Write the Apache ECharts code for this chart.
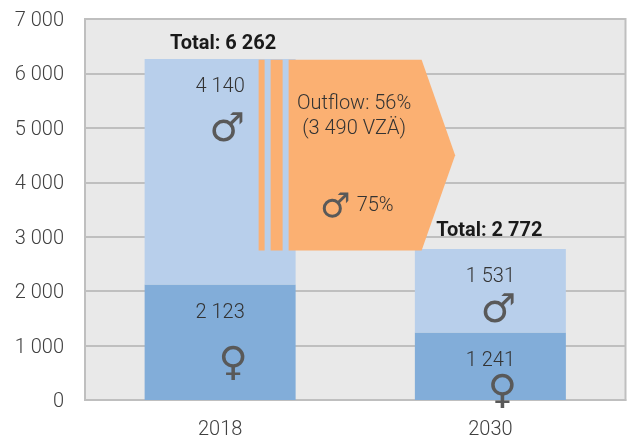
<!DOCTYPE html>
<html><head><meta charset="utf-8">
<style>html,body{margin:0;padding:0;background:#fff}#c{width:627px;height:439px}</style>
<script src="https://cdn.jsdelivr.net/npm/echarts@6/dist/echarts.min.js"></script>
</head><body><div id="c"></div>
<script>
const categories = ['2018', '2030'];
const women = [2123, 1241];
const men = [4140, 1531];
const totals = [6262, 2772];
const totalLabels = ['Total: 6 262', 'Total: 2 772'];
const yTicks = {0:'0',1000:'1 000',2000:'2 000',3000:'3 000',4000:'4 000',5000:'5 000',6000:'6 000',7000:'7 000'};
const menLabels = ['4 140', '1 531'];
const womenLabels = ['2 123', '1 241'];
const outflowText = ['Outflow: 56%', '(3 490 VZÄ)'];
const outflowMenText = '75%';

const FONT = 'Roboto';
const txt = '#404040';
const chart = echarts.init(document.getElementById('c'), null, {renderer:'canvas'});
function T(x,y,s,o,extra){return Object.assign({type:'text',x:x,y:y,silent:true,style:Object.assign({text:s,fill:'#333',font:'300 20px '+FONT,align:'center',verticalAlign:'middle'},o||{})},extra||{});}
chart.setOption({
  animation:false,
  backgroundColor:'#fff',
  grid:{left:85,right:1.5,top:19,bottom:39,outerBoundsMode:'none',backgroundColor:'#e9e9e9',show:true,borderWidth:2,borderColor:'#bfbfbf'},
  xAxis:{type:'category',data:categories,
    axisLine:{lineStyle:{color:'#bfbfbf',width:2}},axisTick:{show:false},
    axisLabel:{color:txt,fontFamily:FONT,fontWeight:300,fontSize:20,margin:20}},
  yAxis:{type:'value',min:0,max:7000,interval:1000,
    axisLine:{show:true,lineStyle:{color:'#bfbfbf',width:2}},axisTick:{show:false},
    splitLine:{lineStyle:{color:'#bfbfbf',width:2}},
    axisLabel:{margin:21,formatter:v=>'{a|'+yTicks[v]+'}',
      rich:{a:{color:txt,fontFamily:FONT,fontWeight:300,fontSize:20,padding:[4,0,0,0]}}}},
  series:[
    {type:'bar',stack:'a',barWidth:151,data:women,itemStyle:{color:'#82add9'},z:3},
    {type:'bar',stack:'a',barWidth:151,data:men,itemStyle:{color:'#b8cfeb'},z:3},
    {type:'custom',z:5,coordinateSystem:'cartesian2d',data:[[0,totals[0],totals[1]]],encode:{x:0,y:1},clip:false,
     renderItem:function(p,api){
       const c=api.coord([0,api.value(1)]);
       const top=c[1]+0.7, bot=api.coord([0,api.value(2)])[1]+1.3;
       const mid=(top+bot)/2, cx=c[0];
       const st={fill:'#fbb072'};
       const R=function(a,b){return {type:'rect',shape:{x:cx+a,y:top,width:b-a,height:bot-top},style:st};};
       return {type:'group',children:[
         R(38.5,44.5),R(50.5,62.5),
         {type:'polygon',shape:{points:[[cx+68.5,top],[cx+201.5,top],[cx+235,mid],[cx+201.5,bot],[cx+68.5,bot]]},style:st}
       ]};
     }},
    {type:'custom',z:6,data:[[0]],encode:{x:0},clip:false,
     renderItem:function(p,api){
       const a=i=>api.coord([i,0])[0];
       const y=v=>api.coord([0,v])[1];
       const x0=a(0),x1=a(1);
       const sym={font:'40px "DejaVu Sans"',fill:'#595959'};
       const bold={font:'700 20px '+FONT,fill:'#1a1a1a'};
       return {type:'group',children:[
         T(x0+3,y(totals[0])-15,totalLabels[0],bold),
         T(x1-1,y(totals[1])-18,totalLabels[1],bold),
         T(x0,y(5750),menLabels[0]),
         T(x0,y(1600),womenLabels[0]),
         T(x1,y(2260),menLabels[1]),
         T(x1,y(725),womenLabels[1]),
         T(x0+134,y(5430),outflowText[0]),
         T(x0+134,y(4970),outflowText[1]),
         T(x0+155,y(3570),outflowMenText),
         T(x0+7,y(4950),'♂',sym),
         T(x1+8,y(1630),'♂',sym),
         T(x0+115,y(3520),'♂',Object.assign({},sym,{font:'34px "DejaVu Sans"'})),
         T(x0+13,y(645),'♀',sym),
         T(x1+12,y(140),'♀',sym,{clipPath:{type:'rect',shape:{x:-30,y:-30,width:60,height:46}}})
       ]};
     }}
  ]
});
</script></body></html>
